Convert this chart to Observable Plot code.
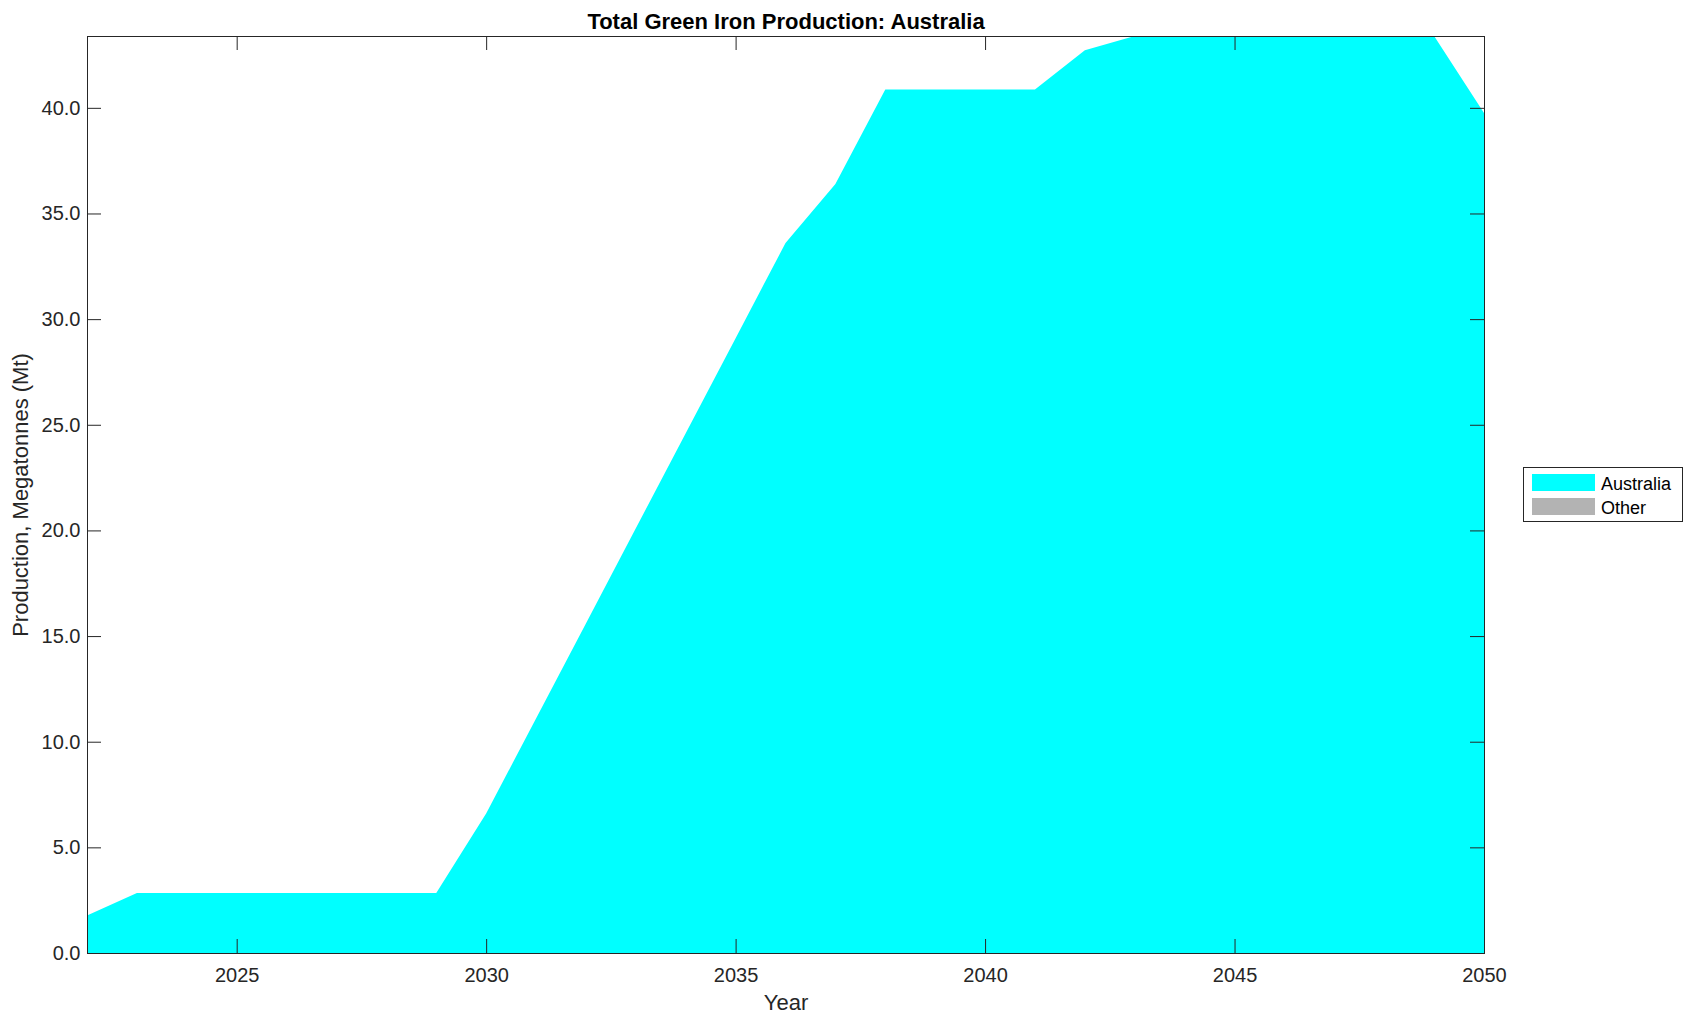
<!DOCTYPE html>
<html>
<head>
<meta charset="utf-8">
<script src="https://cdn.jsdelivr.net/npm/d3@7"></script>
<script src="https://cdn.jsdelivr.net/npm/@observablehq/plot@0.6"></script>
<style>
  html, body { margin: 0; padding: 0; background: #fff; }
  #wrap { position: relative; width: 1694px; height: 1021px; font-family: "Liberation Sans", Arial, Helvetica, sans-serif; }
  #legend { position: absolute; left: 1523px; top: 467px; width: 158px; height: 53px; border: 1px solid #262626; background: #fff; }
  .row { position: absolute; left: 8px; height: 17px; display: flex; align-items: center; }
  .sw { width: 63px; height: 17px; margin-right: 6px; }
  .lab { font-size: 18px; color: #000; line-height: 17px; position: relative; top: 2px; }
</style>
</head>
<body>
<div id="wrap"></div>
<script>
const years = [2022, 2023, 2024, 2025, 2026, 2027, 2028, 2029, 2030, 2031, 2032, 2033, 2034, 2035, 2036, 2037, 2038, 2039, 2040, 2041, 2042, 2043, 2044, 2045, 2046, 2047, 2048, 2049, 2050];
const australia = [1.78, 2.84, 2.84, 2.84, 2.84, 2.84, 2.84, 2.84, 6.6, 11.1, 15.6, 20.1, 24.6, 29.1, 33.6, 36.4, 40.87, 40.87, 40.87, 40.87, 42.73, 43.4, 43.4, 43.4, 43.4, 43.4, 43.4, 43.4, 39.76];
const other = [0, 0, 0, 0, 0, 0, 0, 0, 0, 0, 0, 0, 0, 0, 0, 0, 0, 0, 0, 0, 0, 0, 0, 0, 0, 0, 0, 0, 0];
const seriesNames = ["Australia", "Other"];
const seriesColors = ["#00FFFF", "#B3B3B3"];
const xTicks = [2025, 2030, 2035, 2040, 2045, 2050];
const yTicks = [0, 5, 10, 15, 20, 25, 30, 35, 40];
const yMax = 43.4;
const titleText = "Total Green Iron Production: Australia";
const xLabel = "Year";
const yLabel = "Production, Megatonnes (Mt)";

const data = [];
years.forEach((yr, i) => {
  data.push({year: yr, series: "Australia", value: australia[i]});
  data.push({year: yr, series: "Other", value: other[i]});
});

const W = 1694, H = 1021;
const mL = 87, mR = 210, mT = 36, mB = 68;
const frameW = W - mL - mR, frameH = H - mT - mB;
const tickLen = 14;

const chart = Plot.plot({
  width: W,
  height: H,
  marginLeft: mL,
  marginRight: mR,
  marginTop: mT,
  marginBottom: mB,
  style: {fontFamily: "'Liberation Sans', Arial, Helvetica, sans-serif", color: "#262626", background: "#fff", overflow: "visible"},
  x: {domain: [2022, 2050]},
  y: {domain: [0, yMax]},
  color: {domain: seriesNames, range: seriesColors},
  marks: [
    Plot.areaY(data, {x: "year", y: "value", fill: "series", order: seriesNames, clip: true}),
    Plot.frame({stroke: "#262626", strokeWidth: 1}),
    Plot.tickX(xTicks, {x: d => d, insetTop: frameH - tickLen, stroke: "#262626"}),
    Plot.tickX(xTicks, {x: d => d, insetBottom: frameH - tickLen, stroke: "#262626"}),
    Plot.tickY(yTicks, {y: d => d, insetRight: frameW - tickLen, stroke: "#262626"}),
    Plot.tickY(yTicks, {y: d => d, insetLeft: frameW - tickLen, stroke: "#262626"}),
    Plot.axisX({ticks: xTicks, tickFormat: "d", tickSize: 0, tickPadding: 14, fontSize: 20, label: null, fill: "#262626"}),
    Plot.axisY({ticks: yTicks, tickFormat: d => d.toFixed(1), tickSize: 0, tickPadding: 7, fontSize: 20, label: null, fill: "#262626"}),
    Plot.text([titleText], {frameAnchor: "top", text: d => d, dy: -15, fontSize: 22, fontWeight: "bold", fill: "#000", textAnchor: "middle", lineAnchor: "middle"}),
    Plot.text([xLabel], {frameAnchor: "bottom", text: d => d, dy: 49, fontSize: 22, fill: "#262626", textAnchor: "middle", lineAnchor: "middle"}),
    Plot.text([yLabel], {frameAnchor: "left", text: d => d, dx: -67, rotate: -90, fontSize: 22, fill: "#262626", textAnchor: "middle", lineAnchor: "middle"})
  ]
});

const wrap = document.getElementById("wrap");
wrap.appendChild(chart);

const legend = document.createElement("div");
legend.id = "legend";
seriesNames.forEach((name, i) => {
  const row = document.createElement("div");
  row.className = "row";
  row.style.top = (i === 0 ? 6 : 30) + "px";
  const sw = document.createElement("div");
  sw.className = "sw";
  sw.style.background = seriesColors[i];
  const lab = document.createElement("span");
  lab.className = "lab";
  lab.textContent = name;
  row.appendChild(sw);
  row.appendChild(lab);
  legend.appendChild(row);
});
wrap.appendChild(legend);
</script>
</body>
</html>
